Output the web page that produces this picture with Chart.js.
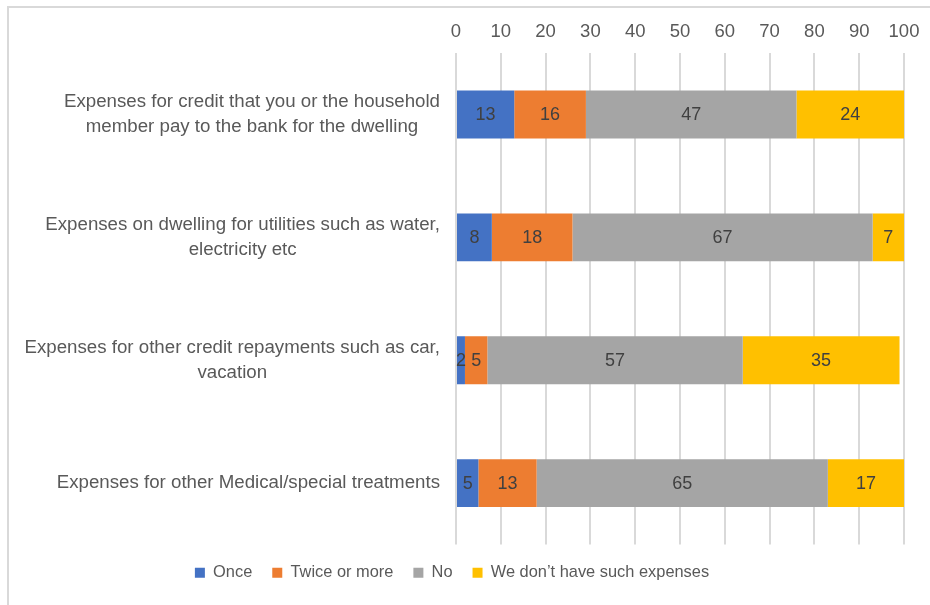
<!DOCTYPE html>
<html>
<head>
<meta charset="utf-8">
<script src="https://cdn.jsdelivr.net/npm/chart.js@4/dist/chart.umd.min.js"></script>
<style>
  html, body { margin: 0; padding: 0; background: #fff; }
  #wrap { position: relative; width: 930px; height: 605px; overflow: hidden; }
  #frame { position: absolute; left: 7px; top: 6px; width: 940px; height: 620px; border: 2px solid #d9d9d9; box-sizing: border-box; }
  canvas { position: absolute; left: 0; top: 0; }
</style>
</head>
<body>
<div id="wrap">
  <div id="frame"></div>
  <canvas id="chart" width="930" height="605"></canvas>
</div>
<script>
// Categories and series
const categories = [
    ['Expenses for credit that you or the household', 'member pay to the bank for the dwelling'],
    ['Expenses on dwelling for utilities such as water,', 'electricity etc'],
    ['Expenses for other credit repayments such as car,', 'vacation'],
    ['Expenses for other Medical/special treatments']
];
const once = [13, 8, 2, 5];
const twiceOrMore = [16, 18, 5, 13];
const no = [47, 67, 57, 65];
const noSuchExpenses = [24, 7, 35, 17];

const FONT = 'Liberation Sans, Arial, sans-serif';

// draw the value in the middle of every bar
const barLabels = {
    id: 'barLabels',
    afterDatasetsDraw(chart) {
        const ctx = chart.ctx;
        ctx.save();
        ctx.font = '18px ' + FONT;
        ctx.fillStyle = '#404040';
        ctx.textAlign = 'center';
        ctx.textBaseline = 'middle';
        chart.data.datasets.forEach((ds, i) => {
            chart.getDatasetMeta(i).data.forEach((bar, j) => {
                const p = bar.getProps(['x', 'y', 'base'], true);
                ctx.fillText(ds.data[j], (p.x + p.base) / 2, p.y + 1);
            });
        });
        ctx.restore();
    }
};

// category labels: block right-aligned to the axis, lines centred inside the block
const catLabels = {
    id: 'catLabels',
    afterDraw(chart) {
        const ctx = chart.ctx;
        const scale = chart.scales.y;
        const right = scale.right - 16;
        const lh = 25;
        ctx.save();
        ctx.font = '18.7px ' + FONT;
        ctx.fillStyle = '#595959';
        ctx.textAlign = 'center';
        ctx.textBaseline = 'middle';
        chart.data.labels.forEach((lines, i) => {
            const y = scale.getPixelForTick(i);
            const bw = Math.max(...lines.map(l => ctx.measureText(l).width));
            const cx = right - bw / 2;
            lines.forEach((l, k) => {
                ctx.fillText(l, cx, y + (k - (lines.length - 1) / 2) * lh);
            });
        });
        ctx.restore();
    }
};

new Chart(document.getElementById('chart'), {
    type: 'bar',
    data: {
        labels: categories,
        datasets: [
            { label: 'Once', data: once, backgroundColor: '#4472C4' },
            { label: 'Twice or more', data: twiceOrMore, backgroundColor: '#ED7D31' },
            { label: 'No', data: no, backgroundColor: '#A5A5A5' },
            { label: 'We don\u2019t have such expenses', data: noSuchExpenses, backgroundColor: '#FFC000' }
        ]
    },
    options: {
        indexAxis: 'y',
        responsive: false,
        animation: false,
        layout: { padding: { top: 0, right: 26, bottom: 14, left: 0 } },
        datasets: { bar: { categoryPercentage: 0.39, barPercentage: 1 } },
        plugins: {
            legend: {
                position: 'bottom',
                labels: {
                    boxWidth: 10,
                    boxHeight: 10,
                    padding: 20,
                    color: '#595959',
                    font: { size: 16.4, family: FONT }
                }
            },
            tooltip: { enabled: false }
        },
        scales: {
            x: {
                position: 'top',
                stacked: true,
                min: 0,
                max: 100,
                ticks: { stepSize: 10, color: '#595959', font: { size: 18.5, family: FONT }, padding: 10 },
                grid: { color: '#d9d9d9', lineWidth: 2, drawTicks: false },
                border: { display: false },
                afterFit(scale) { scale.height = 53; }
            },
            y: {
                stacked: true,
                ticks: { display: false },
                grid: { display: false },
                border: { display: false },
                afterFit(scale) { scale.width = 456; }
            }
        }
    },
    plugins: [barLabels, catLabels]
});
</script>
</body>
</html>
